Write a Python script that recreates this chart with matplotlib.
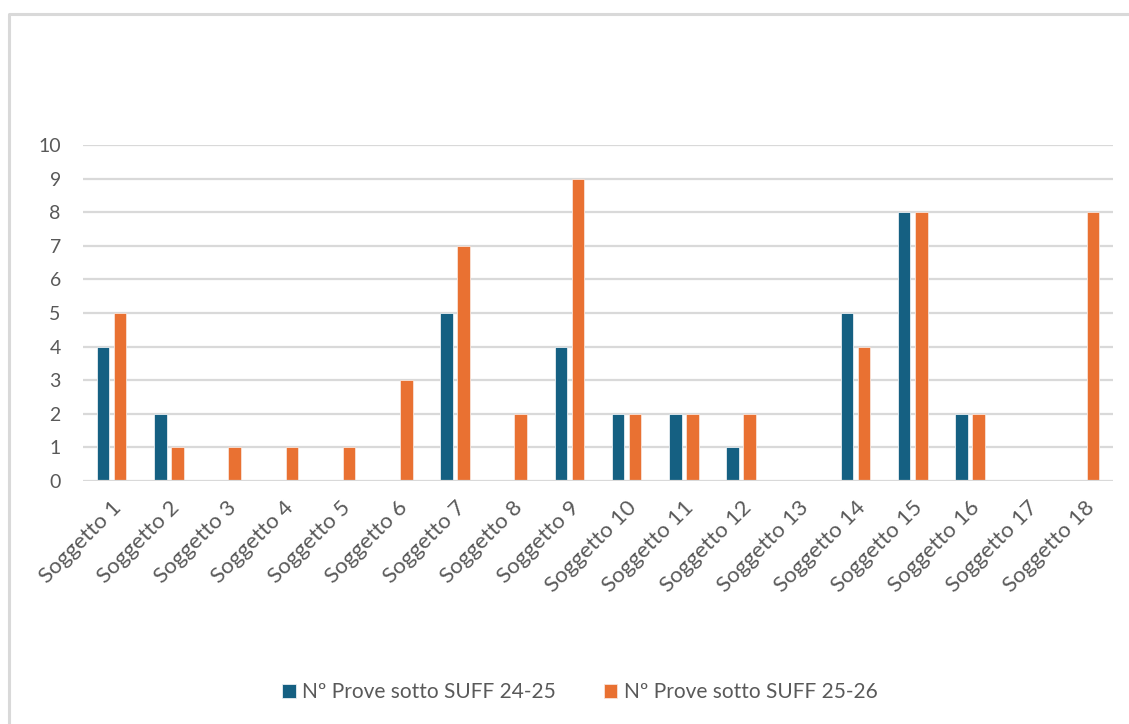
import matplotlib
matplotlib.use("Agg")
import matplotlib.pyplot as plt
from matplotlib.lines import Line2D
import numpy as np

categories = [f"Soggetto {i}" for i in range(1, 19)]
serie_24_25 = [4, 2, 0, 0, 0, 0, 5, 0, 4, 2, 2, 1, 0, 5, 8, 2, 0, 0]
serie_25_26 = [5, 1, 1, 1, 1, 3, 7, 2, 9, 2, 2, 2, 0, 4, 8, 2, 0, 8]
series_labels = ["Nº Prove sotto SUFF 24-25", "Nº Prove sotto SUFF 25-26"]
y_ticks = list(range(0, 11))

BLUE = "#156082"
ORANGE = "#E97132"
TEXT = "#595959"
GRID = "#D9D9D9"

plt.rcParams["font.family"] = ["Lato", "DejaVu Sans"]

W, H = 1129, 724
fig = plt.figure(figsize=(W / 100, H / 100), dpi=100)
fig.patch.set_facecolor("white")

# chart-area frame (left and top edges)
fig.add_artist(Line2D([9 / W, 9 / W, 1.0], [0.0, 1 - 14 / H, 1 - 14 / H],
                      transform=fig.transFigure, color=GRID, lw=2.2))

left, right = 83 / W, 1113 / W
bottom, top = 1 - 481 / H, 1 - 145 / H
ax = fig.add_axes([left, bottom, right - left, top - bottom])

x = np.arange(len(categories))
bw = 0.22
off = 0.15
ax.bar(x - off, serie_24_25, width=bw, color=BLUE, edgecolor="#E8EEF2",
       linewidth=0.6, zorder=3, label=series_labels[0])
ax.bar(x + off, serie_25_26, width=bw, color=ORANGE, edgecolor="#F8E3D8",
       linewidth=0.6, zorder=3, label=series_labels[1])

ax.set_xlim(-0.5, len(categories) - 0.5)
ax.set_ylim(0, 10)
ax.set_yticks(y_ticks)
for yv in y_ticks:
    ax.axhline(yv, color=GRID, lw=1.6, zorder=1 if yv else 4)

for s in ax.spines.values():
    s.set_visible(False)
ax.tick_params(axis="y", length=0, labelsize=14, colors=TEXT, pad=16)
ax.tick_params(axis="x", length=0, labelsize=16, colors=TEXT, pad=12)
ax.set_xticks(x)
ax.set_xticklabels(categories, rotation=45, ha="right", rotation_mode="anchor")

handles, labels = ax.get_legend_handles_labels()
leg = fig.legend(handles, labels, loc="center", bbox_to_anchor=(580 / W, 1 - 692 / H),
                 ncol=2, frameon=False, handlelength=0.65,
                 handleheight=0.65, handletextpad=0.3, columnspacing=2.3,
                 labelcolor=TEXT, prop={"size": 15})

fig.savefig("out.png", dpi=100, facecolor="white")
